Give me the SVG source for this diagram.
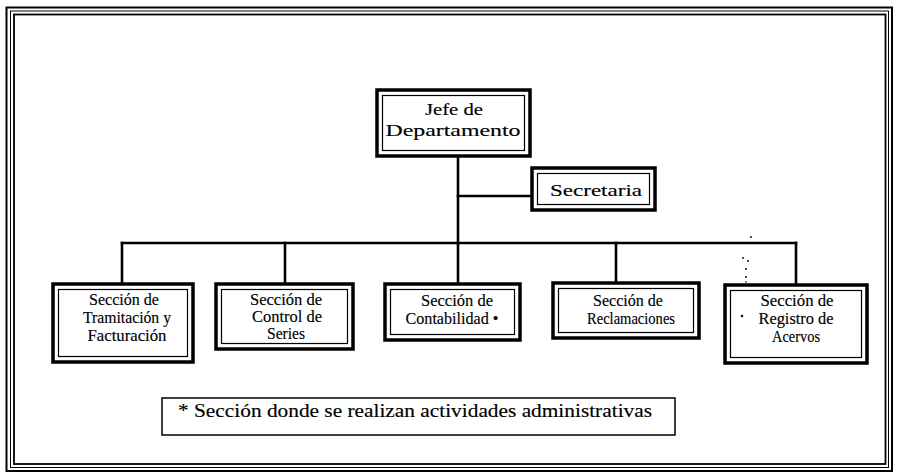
<svg xmlns="http://www.w3.org/2000/svg" width="899" height="476" viewBox="0 0 899 476">
<style>
.t{font-family:"Liberation Serif","Times New Roman",serif;fill:#000;stroke:#000;stroke-width:0.15;text-anchor:middle}
.b{font-size:16px}
.h{font-size:17px}
.outer{fill:#fff;stroke:#000;stroke-width:3.5}
.inner{fill:none;stroke:#000;stroke-width:1.2}
.con{stroke:#000;stroke-width:2.6;fill:none;stroke-linecap:square}
.frame{fill:none;stroke:#000}
</style>
<rect x="0" y="0" width="899" height="476" fill="#fff"/>
<g id="frame">
<rect class="frame" x="6.5" y="7.5" width="885.5" height="463.5" stroke-width="2"/>
<rect class="frame" x="10.5" y="11" width="878" height="456.5" stroke-width="1"/>
<rect class="frame" x="14" y="14.5" width="871.5" height="449.5" stroke-width="1.8"/>
</g>
<g id="connectors">
<path class="con" d="M458 156 V243"/>
<path class="con" d="M458 196 H532"/>
<path class="con" d="M122 243 H796"/>
<path class="con" d="M122 243 V284"/>
<path class="con" d="M285 243 V284"/>
<path class="con" d="M458 243 V284"/>
<path class="con" d="M616 243 V283"/>
<path class="con" d="M796 243 V285"/>
</g>
<g id="jefe">
<rect class="outer" x="377" y="90" width="153" height="66"/>
<rect class="inner" x="382.5" y="95.5" width="142" height="55"/>
<text class="t h" x="454" y="115" textLength="58" lengthAdjust="spacingAndGlyphs">Jefe de</text>
<text class="t h" x="453" y="136" textLength="135" lengthAdjust="spacingAndGlyphs">Departamento</text>
</g>
<g id="secretaria">
<rect class="outer" x="532" y="168" width="123" height="42"/>
<rect class="inner" x="537.5" y="173.5" width="112" height="31"/>
<text class="t h" x="596" y="196" textLength="92" lengthAdjust="spacingAndGlyphs">Secretaria</text>
</g>
<g id="tramitacion">
<rect class="outer" x="53" y="284" width="140" height="78"/>
<rect class="inner" x="58.5" y="289.5" width="129" height="67"/>
<text class="t b" x="124" y="305" textLength="70" lengthAdjust="spacingAndGlyphs">Sección de</text>
<text class="t b" x="127" y="323" textLength="88" lengthAdjust="spacingAndGlyphs">Tramitación y</text>
<text class="t b" x="127" y="341" textLength="79" lengthAdjust="spacingAndGlyphs">Facturación</text>
</g>
<g id="control">
<rect class="outer" x="216" y="284" width="137" height="65"/>
<rect class="inner" x="221.5" y="289.5" width="126" height="54"/>
<text class="t b" x="286" y="305" textLength="72" lengthAdjust="spacingAndGlyphs">Sección de</text>
<text class="t b" x="287" y="322" textLength="70" lengthAdjust="spacingAndGlyphs">Control de</text>
<text class="t b" x="286" y="339" textLength="38" lengthAdjust="spacingAndGlyphs">Series</text>
</g>
<g id="contabilidad">
<rect class="outer" x="385" y="284" width="135" height="56"/>
<rect class="inner" x="390.5" y="289.5" width="124" height="45"/>
<text class="t b" x="457" y="306" textLength="72" lengthAdjust="spacingAndGlyphs">Sección de</text>
<text class="t b" x="452" y="324" textLength="93" lengthAdjust="spacingAndGlyphs">Contabilidad •</text>
</g>
<g id="reclamaciones">
<rect class="outer" x="553" y="283" width="146" height="55"/>
<rect class="inner" x="558.5" y="288.5" width="135" height="44"/>
<text class="t b" x="628" y="306" textLength="70" lengthAdjust="spacingAndGlyphs">Sección de</text>
<text class="t b" x="631" y="324" textLength="88" lengthAdjust="spacingAndGlyphs">Reclamaciones</text>
</g>
<g id="registro">
<rect class="outer" x="725" y="285" width="142" height="78"/>
<rect class="inner" x="730.5" y="290.5" width="131" height="67"/>
<text class="t b" x="797" y="306" textLength="73" lengthAdjust="spacingAndGlyphs">Sección de</text>
<text class="t b" x="796" y="324" textLength="75" lengthAdjust="spacingAndGlyphs">Registro de</text>
<text class="t b" x="796" y="342" textLength="48" lengthAdjust="spacingAndGlyphs">Acervos</text>
<circle cx="742" cy="316" r="1.2" fill="#000"/>
</g>
<g id="specks" fill="#000">
<circle cx="751" cy="237" r="0.9"/>
<circle cx="743" cy="258" r="0.9"/>
<circle cx="748" cy="261" r="0.9"/>
<circle cx="746" cy="269" r="1"/>
<circle cx="746" cy="277" r="1"/>
<circle cx="746" cy="282" r="0.8"/>
</g>
<g id="nota">
<rect x="162" y="398" width="513" height="37" fill="#fff" stroke="#000" stroke-width="1.5"/>
<text x="178" y="417" font-family="'Liberation Serif','Times New Roman',serif" font-size="18" stroke="#000" stroke-width="0.15" textLength="474" lengthAdjust="spacingAndGlyphs">* Sección donde se realizan actividades administrativas</text>
</g>
</svg>
